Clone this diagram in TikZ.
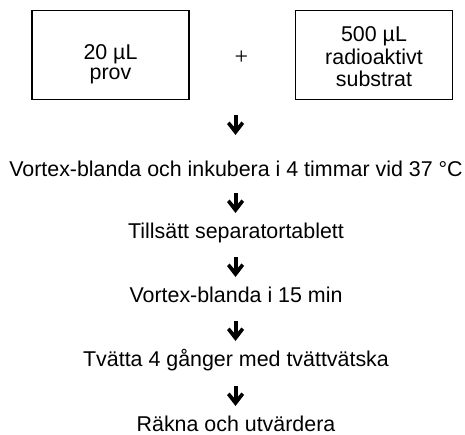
\documentclass[tikz,border=0pt]{standalone}
\usepackage{fontspec}
\setmainfont{Liberation Sans}
\newfontfamily\plusfont{Liberation Serif}
\begin{document}
\begin{tikzpicture}[x=1pt,y=-1pt,
  boxed/.style={draw, line width=1.6pt, minimum width=157pt, minimum height=89pt, inner sep=0pt},
  txt/.style={anchor=base, inner sep=0pt, font=\fontsize{21.4}{25}\selectfont},
  downarr/.pic={
    \fill (-2,0) rectangle (2,14);
    \fill (-8.5,9) -- (0,20) -- (8.5,9) -- (6,6.5) -- (0,13.5) -- (-6,6.5) -- cycle;}]
\useasboundingbox (0,0) rectangle (465,435);
% boxes
\node[boxed] (b1) at (110.5,55) {};
\node[boxed] (b2) at (374,55) {};
\node[txt] (b1l1) at (110.5,59.5) {20 µL};
\node[txt] (b1l2) at (110.5,80) {prov};
\node[txt] (b2l1) at (374,42) {500 µL};
\node[txt] (b2l2) at (374,64.5) {radioaktivt};
\node[txt] (b2l3) at (374,87) {substrat};
\node[inner sep=0pt, font=\plusfont\fontsize{24}{28}\selectfont] (plus) at (241.5,57.5) {+};
% steps
\node[txt] (s1) at (236,177) {Vortex-blanda och inkubera i 4 timmar vid 37 °C};
\node[txt] (s2) at (236,239) {Tillsätt separatortablett};
\node[txt] (s3) at (236,302.5) {Vortex-blanda i 15 min};
\node[txt] (s4) at (236,366) {Tvätta 4 gånger med tvättvätska};
\node[txt] (s5) at (236,431.5) {Räkna och utvärdera};
% arrows
\coordinate (a1) at (235.5,115);
\coordinate (a2) at (235.5,193);
\coordinate (a3) at (235.5,257);
\coordinate (a4) at (235.5,321);
\coordinate (a5) at (235.5,386);
\foreach \i in {1,...,5} {\pic at (a\i) {downarr};}
\end{tikzpicture}
\end{document}
